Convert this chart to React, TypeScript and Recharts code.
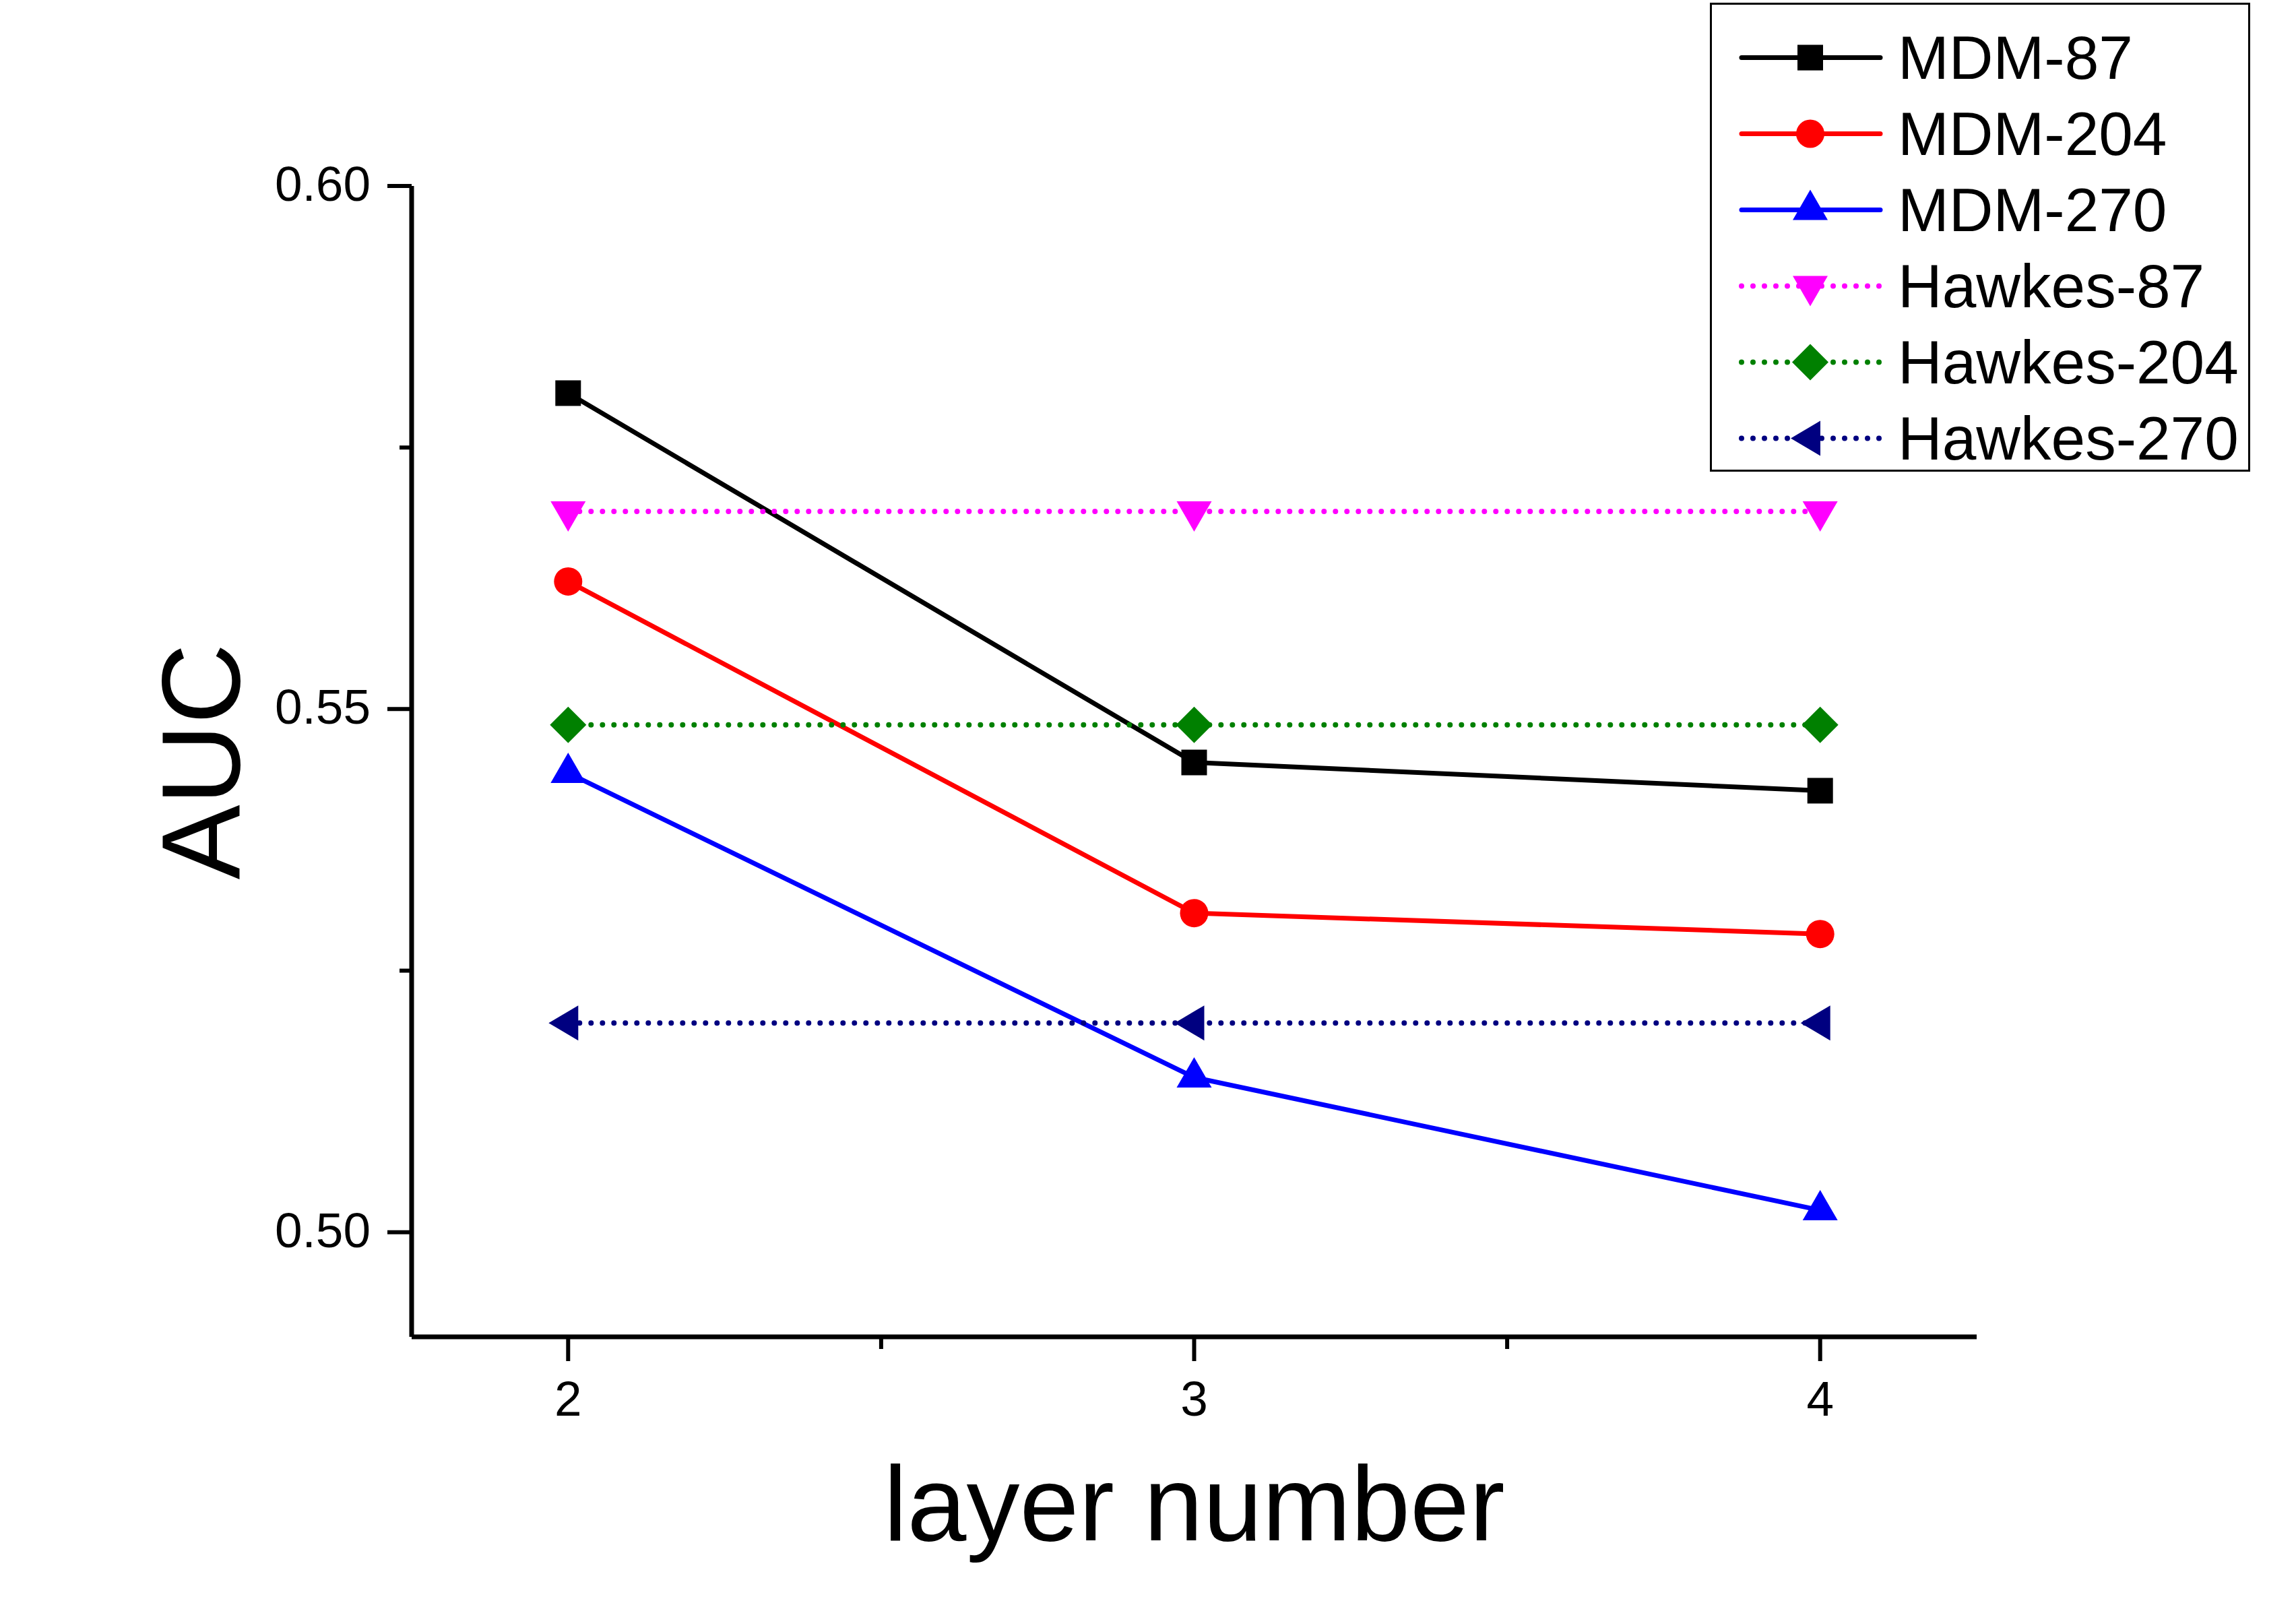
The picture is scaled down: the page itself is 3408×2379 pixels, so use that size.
import React from "react";
import { LineChart, Line, XAxis, YAxis, Legend, Label } from "recharts";

// AUC against number of layers, MDM vs Hawkes baselines
const layers = [2, 3, 4];
const mdm87 = [0.5802, 0.5449, 0.5422];
const mdm204 = [0.5622, 0.5305, 0.5285];
const mdm270 = [0.5439, 0.5148, 0.5021];
const hawkes87 = [0.5689, 0.5689, 0.5689];
const hawkes204 = [0.5485, 0.5485, 0.5485];
const hawkes270 = [0.52, 0.52, 0.52];

const xTicks = [2, 2.5, 3, 3.5, 4];
const yTicks = [0.5, 0.525, 0.55, 0.575, 0.6];

type Shape = "square" | "circle" | "up" | "down" | "diamond" | "left";

const series: { name: string; values: number[]; color: string; dotted: boolean; shape: Shape }[] = [
  { name: "MDM-87", values: mdm87, color: "#000000", dotted: false, shape: "square" },
  { name: "MDM-204", values: mdm204, color: "#ff0000", dotted: false, shape: "circle" },
  { name: "MDM-270", values: mdm270, color: "#0000ff", dotted: false, shape: "up" },
  { name: "Hawkes-87", values: hawkes87, color: "#ff00ff", dotted: true, shape: "down" },
  { name: "Hawkes-204", values: hawkes204, color: "#008000", dotted: true, shape: "diamond" },
  { name: "Hawkes-270", values: hawkes270, color: "#000080", dotted: true, shape: "left" },
];

const data = layers.map((layer, i) => {
  const row: Record<string, number> = { layer };
  series.forEach((s) => {
    row[s.name] = s.values[i];
  });
  return row;
});

const FONT = "'Liberation Sans', Arial, sans-serif";

function Marker({ shape, cx, cy, color }: { shape: Shape; cx: number; cy: number; color: string }) {
  switch (shape) {
    case "square":
      return <rect x={cx - 19} y={cy - 19} width={38} height={38} fill={color} />;
    case "circle":
      return <ellipse cx={cx} cy={cy} rx={21} ry={21} fill={color} />;
    case "up":
      return (
        <polygon
          points={`${cx},${cy - 30} ${cx + 26},${cy + 15} ${cx - 26},${cy + 15}`}
          fill={color}
        />
      );
    case "down":
      return (
        <polygon
          points={`${cx - 26},${cy - 15} ${cx + 26},${cy - 15} ${cx},${cy + 30}`}
          fill={color}
        />
      );
    case "diamond":
      return (
        <polygon
          points={`${cx},${cy - 27} ${cx + 27},${cy} ${cx},${cy + 27} ${cx - 27},${cy}`}
          fill={color}
        />
      );
    case "left":
      return (
        <polygon
          points={`${cx - 29},${cy} ${cx + 15},${cy - 26} ${cx + 15},${cy + 26}`}
          fill={color}
        />
      );
  }
  return null;
}

const XTick = (props: any) => {
  const { x, y, payload } = props;
  const major = Number.isInteger(payload.value);
  return (
    <g>
      <line x1={x} y1={y} x2={x} y2={y + (major ? 36 : 18)} stroke="#000" strokeWidth={6} />
      {major && (
        <text x={x} y={y + 117} textAnchor="middle" fontSize={73} fontFamily={FONT} fill="#000">
          {payload.value}
        </text>
      )}
    </g>
  );
};

const YTick = (props: any) => {
  const { x, y, payload } = props;
  const major = Math.round(payload.value * 1000) % 50 === 0;
  return (
    <g>
      <line x1={x - (major ? 36 : 18)} y1={y} x2={x} y2={y} stroke="#000" strokeWidth={6} />
      {major && (
        <text x={x - 61} y={y + 22} textAnchor="end" fontSize={73} fontFamily={FONT} fill="#000">
          {payload.value.toFixed(2)}
        </text>
      )}
    </g>
  );
};

const LegendBox = (props: any) => {
  const payload = [...(props.payload || [])].sort(
    (a: any, b: any) =>
      series.findIndex((s) => s.name === a.value) - series.findIndex((s) => s.name === b.value)
  );
  return (
    <div
      style={{
        boxSizing: "border-box",
        width: 802,
        height: 696,
        border: "3px solid #000",
        background: "#fff",
        paddingTop: 22,
        fontFamily: FONT,
      }}
    >
      {payload.map((p: any) => {
        const s = series.find((q) => q.name === p.value)!;
        return (
          <div key={p.value} style={{ display: "flex", alignItems: "center", height: 113 }}>
            <svg width={276} height={113} style={{ display: "block" }}>
              <line
                x1={44}
                x2={250}
                y1={56.5}
                y2={56.5}
                stroke={s.color}
                strokeWidth={s.dotted ? 8 : 7}
                strokeLinecap="round"
                strokeDasharray={s.dotted ? "0 17" : undefined}
              />
              <Marker shape={s.shape} cx={146} cy={56.5} color={s.color} />
            </svg>
            <span style={{ fontSize: 91, lineHeight: "113px", color: "#000", whiteSpace: "nowrap" }}>
              {p.value}
            </span>
          </div>
        );
      })}
    </div>
  );
};

export default function App() {
  return (
    <div style={{ position: "absolute", left: 0, top: 0, background: "#fff" }}>
      <LineChart
        width={3408}
        height={2379}
        data={data}
        margin={{ top: 276, right: 474, left: 211, bottom: 45 }}
      >
        <XAxis
          dataKey="layer"
          type="number"
          domain={[1.75, 4.25]}
          ticks={xTicks}
          interval={0}
          allowDataOverflow
          height={350}
          tickSize={0}
          tickMargin={0}
          tickLine={false}
          tick={<XTick />}
          axisLine={{ stroke: "#000", strokeWidth: 7 }}
        >
          <Label
            content={(p: any) => {
              const vb = p.viewBox;
              return (
                <text
                  x={vb.x + vb.width / 2}
                  y={vb.y + 302}
                  textAnchor="middle"
                  fontSize={158}
                  fontFamily={FONT}
                  fill="#000"
                >
                  layer number
                </text>
              );
            }}
          />
        </XAxis>
        <YAxis
          type="number"
          domain={[0.49, 0.6]}
          ticks={yTicks}
          interval={0}
          allowDataOverflow
          width={400}
          tickSize={0}
          tickMargin={0}
          tickLine={false}
          tick={<YTick />}
          axisLine={{ stroke: "#000", strokeWidth: 7 }}
        >
          <Label
            content={(p: any) => {
              const vb = p.viewBox;
              const cx = vb.x + 86;
              const cy = vb.y + vb.height / 2;
              return (
                <text
                  x={cx}
                  y={cy}
                  transform={`rotate(-90 ${cx} ${cy})`}
                  textAnchor="middle"
                  dominantBaseline="central"
                  fontSize={166}
                  fontFamily={FONT}
                  fill="#000"
                >
                  AUC
                </text>
              );
            }}
          />
        </YAxis>
        <Legend
          layout="vertical"
          align="center"
          verticalAlign="middle"
          content={<LegendBox />}
          wrapperStyle={{ position: "absolute", left: 2538, top: 4, width: 802, height: 696 }}
        />
        {series.map((s) => (
          <Line
            key={s.name}
            type="linear"
            dataKey={s.name}
            name={s.name}
            stroke={s.color}
            strokeWidth={s.dotted ? 8 : 7}
            strokeLinecap="round"
            strokeDasharray={s.dotted ? "0 17" : undefined}
            isAnimationActive={false}
            activeDot={false}
            dot={(d: any) => (
              <Marker key={`${s.name}-${d.index}`} shape={s.shape} cx={d.cx} cy={d.cy} color={s.color} />
            )}
          />
        ))}
      </LineChart>
    </div>
  );
}
